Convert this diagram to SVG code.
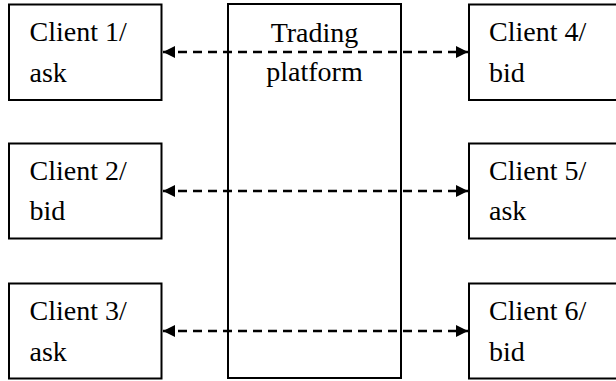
<svg xmlns="http://www.w3.org/2000/svg" width="616" height="381" viewBox="0 0 616 381">
  <style>
    .box { fill: #fff; stroke: #000; stroke-width: 2; }
    .lbl { font-family: "Liberation Serif", "Times New Roman", serif; font-size: 28px; fill: #000; }
    .mid { text-anchor: middle; }
    .link { stroke: #000; stroke-width: 2.5; stroke-dasharray: 9 6; fill: none; }
  </style>
  <defs>
    <marker id="head" viewBox="0 0 12 12" refX="12" refY="6" markerWidth="12" markerHeight="12" markerUnits="userSpaceOnUse" orient="auto-start-reverse">
      <path d="M0 0 L12 6 L0 12 Z" fill="#000"/>
    </marker>
  </defs>

  <rect width="616" height="381" fill="#fff"/>

  <g id="platform">
    <rect class="box" x="228" y="4" width="173" height="374"/>
    <text class="lbl mid" x="314.5" y="42">Trading</text>
    <text class="lbl mid" x="314.5" y="81">platform</text>
  </g>

  <g id="client1">
    <rect class="box" x="9" y="4.5" width="152.5" height="95.5"/>
    <text class="lbl" x="29.5" y="41">Client 1/</text>
    <text class="lbl" x="29.5" y="81.5">ask</text>
  </g>
  <g id="client2">
    <rect class="box" x="9" y="143.5" width="152.5" height="95"/>
    <text class="lbl" x="29.5" y="180">Client 2/</text>
    <text class="lbl" x="29.5" y="220">bid</text>
  </g>
  <g id="client3">
    <rect class="box" x="9" y="283.5" width="152.5" height="95"/>
    <text class="lbl" x="29.5" y="320">Client 3/</text>
    <text class="lbl" x="29.5" y="360.5">ask</text>
  </g>

  <g id="client4">
    <rect class="box" x="469" y="4.5" width="152" height="95.5"/>
    <text class="lbl" x="489" y="41">Client 4/</text>
    <text class="lbl" x="489" y="81.5">bid</text>
  </g>
  <g id="client5">
    <rect class="box" x="469" y="143.5" width="152" height="95"/>
    <text class="lbl" x="489" y="180">Client 5/</text>
    <text class="lbl" x="489" y="220">ask</text>
  </g>
  <g id="client6">
    <rect class="box" x="469" y="283.5" width="152" height="95"/>
    <text class="lbl" x="489" y="320">Client 6/</text>
    <text class="lbl" x="489" y="360.5">bid</text>
  </g>

  <g id="connectors">
    <line class="link" x1="163" y1="52" x2="468" y2="52" marker-start="url(#head)" marker-end="url(#head)"/>
    <line class="link" x1="163" y1="191" x2="468" y2="191" marker-start="url(#head)" marker-end="url(#head)"/>
    <line class="link" x1="163" y1="331" x2="468" y2="331" marker-start="url(#head)" marker-end="url(#head)"/>
  </g>
</svg>
